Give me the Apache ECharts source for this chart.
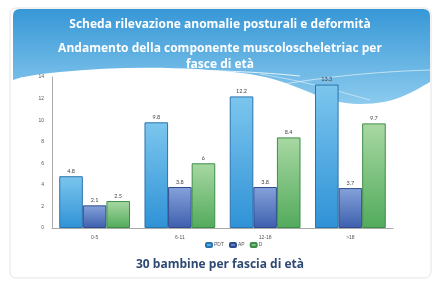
<!DOCTYPE html>
<html><head><meta charset="utf-8">
<script src="https://cdn.jsdelivr.net/npm/echarts@6/dist/echarts.min.js"></script>
<style>html,body{margin:0;padding:0;background:#fff}#c{width:440px;height:282px}</style>
</head><body><div id="c"></div>
<script>
var categories = ["0-5", "6-11", "12-18", ">18"];
var seriesNames = ["PDT", "AP", "D"];
var pdt = [4.8, 9.8, 12.2, 13.3];
var ap = [2.1, 3.8, 3.8, 3.7];
var d = [2.5, 6, 8.4, 9.7];
var yTicks = [0, 2, 4, 6, 8, 10, 12, 14];

var HeaderShape = echarts.graphic.extendPath(
  'M 13 16 Q 13 9 20 9 L 423 9 Q 430 9 430 16 L 430 82 C 412 92 396 104 360 104 C 320 104 300 82 250 74 C 190 66 120 66 60 72 C 40 74 25 76 13 80 Z', {});
echarts.graphic.registerShape('headerWave', HeaderShape);

var chart = echarts.init(document.getElementById('c'));
function grad(a, b) {
  return new echarts.graphic.LinearGradient(0, 0, 0, 1, [{offset: 0, color: a}, {offset: 1, color: b}]);
}
var labelStyle = {show: true, position: 'top', fontSize: 5.5, color: '#444', distance: 2, fontFamily: 'Lato'};
function mk(name, data, c1, c2, border) {
  return {
    name: name, type: 'bar', data: data, barGap: '0%', barCategoryGap: '17%',
    itemStyle: {color: grad(c1, c2), borderColor: border, borderWidth: 1},
    label: labelStyle, z: 5
  };
}
var option = {
  animation: false,
  graphic: [
    {type: 'rect', shape: {x: 10, y: 8, width: 421, height: 270, r: 6}, style: {fill: '#fff', stroke: '#e4e4e4', lineWidth: 1}, z: -10},
    {type: 'headerWave', z: -5, shape: {},
     style: {fill: new echarts.graphic.LinearGradient(0, 0, 0, 1, [{offset: 0, color: '#3797d6'}, {offset: 1, color: '#8ccbee'}])}},
    {type: 'bezierCurve', z: -4, shape: {x1: 240, y1: 92, cpx1: 300, cpy1: 80, cpx2: 360, cpy2: 72, x2: 430, y2: 70}, style: {fill: null, stroke: 'rgba(255,255,255,0.7)', lineWidth: 0.8}},
    {type: 'bezierCurve', z: -4, shape: {x1: 260, y1: 74, cpx1: 310, cpy1: 82, cpx2: 340, cpy2: 92, x2: 370, y2: 100}, style: {fill: null, stroke: 'rgba(255,255,255,0.6)', lineWidth: 0.8}},
    {type: 'bezierCurve', z: -4, shape: {x1: 20, y1: 78, cpx1: 120, cpy1: 68, cpx2: 220, cpy2: 68, x2: 300, y2: 76}, style: {fill: null, stroke: 'rgba(255,255,255,0.8)', lineWidth: 1}},
    {type: 'text', left: 'center', top: 19, style: {text: 'Scheda rilevazione anomalie posturali e deformità', fill: '#ffffff', font: 'bold 12px "Open Sans"', textAlign: 'center'}},
    {type: 'text', left: 'center', top: 41, style: {text: 'Andamento della componente muscoloscheletriac per\nfasce di età', fill: '#ffffff', font: 'bold 12px "Open Sans"', textAlign: 'center', lineHeight: 16}},
    {type: 'text', left: 'center', top: 259, style: {text: '30 bambine per fascia di età', fill: '#2e4a72', font: 'bold 12px "Open Sans"', textAlign: 'center'}}
  ],
  legend: {
    data: seriesNames, left: 200, top: 237, itemWidth: 6, itemHeight: 4, itemGap: 5,
    textStyle: {fontSize: 5, color: '#555', padding: [0, 0, 0, -3]}
  },
  grid: {left: 52, right: 47, top: 77, bottom: 54},
  xAxis: {
    type: 'category', data: categories,
    axisLine: {lineStyle: {color: '#aaa', width: 1}},
    axisTick: {show: false},
    axisLabel: {fontSize: 5, color: '#555', margin: 7}
  },
  yAxis: {
    type: 'value', min: 0, max: 14, interval: 2,
    axisLine: {show: true, lineStyle: {color: '#aaa', width: 1}},
    axisTick: {show: false},
    splitLine: {show: false},
    axisLabel: {fontSize: 5, color: '#555', margin: 8,
      formatter: function (v) { return yTicks.indexOf(v) >= 0 ? String(v) : ''; }}
  },
  series: [
    mk(seriesNames[0], pdt, '#7cc6ee', '#2f92d6', '#2a74ad'),
    mk(seriesNames[1], ap, '#86a2da', '#3d5fae', '#2f4b8e'),
    mk(seriesNames[2], d, '#a8d8a2', '#52ab5c', '#3d8d48')
  ]
};
chart.setOption(option);
</script></body></html>
